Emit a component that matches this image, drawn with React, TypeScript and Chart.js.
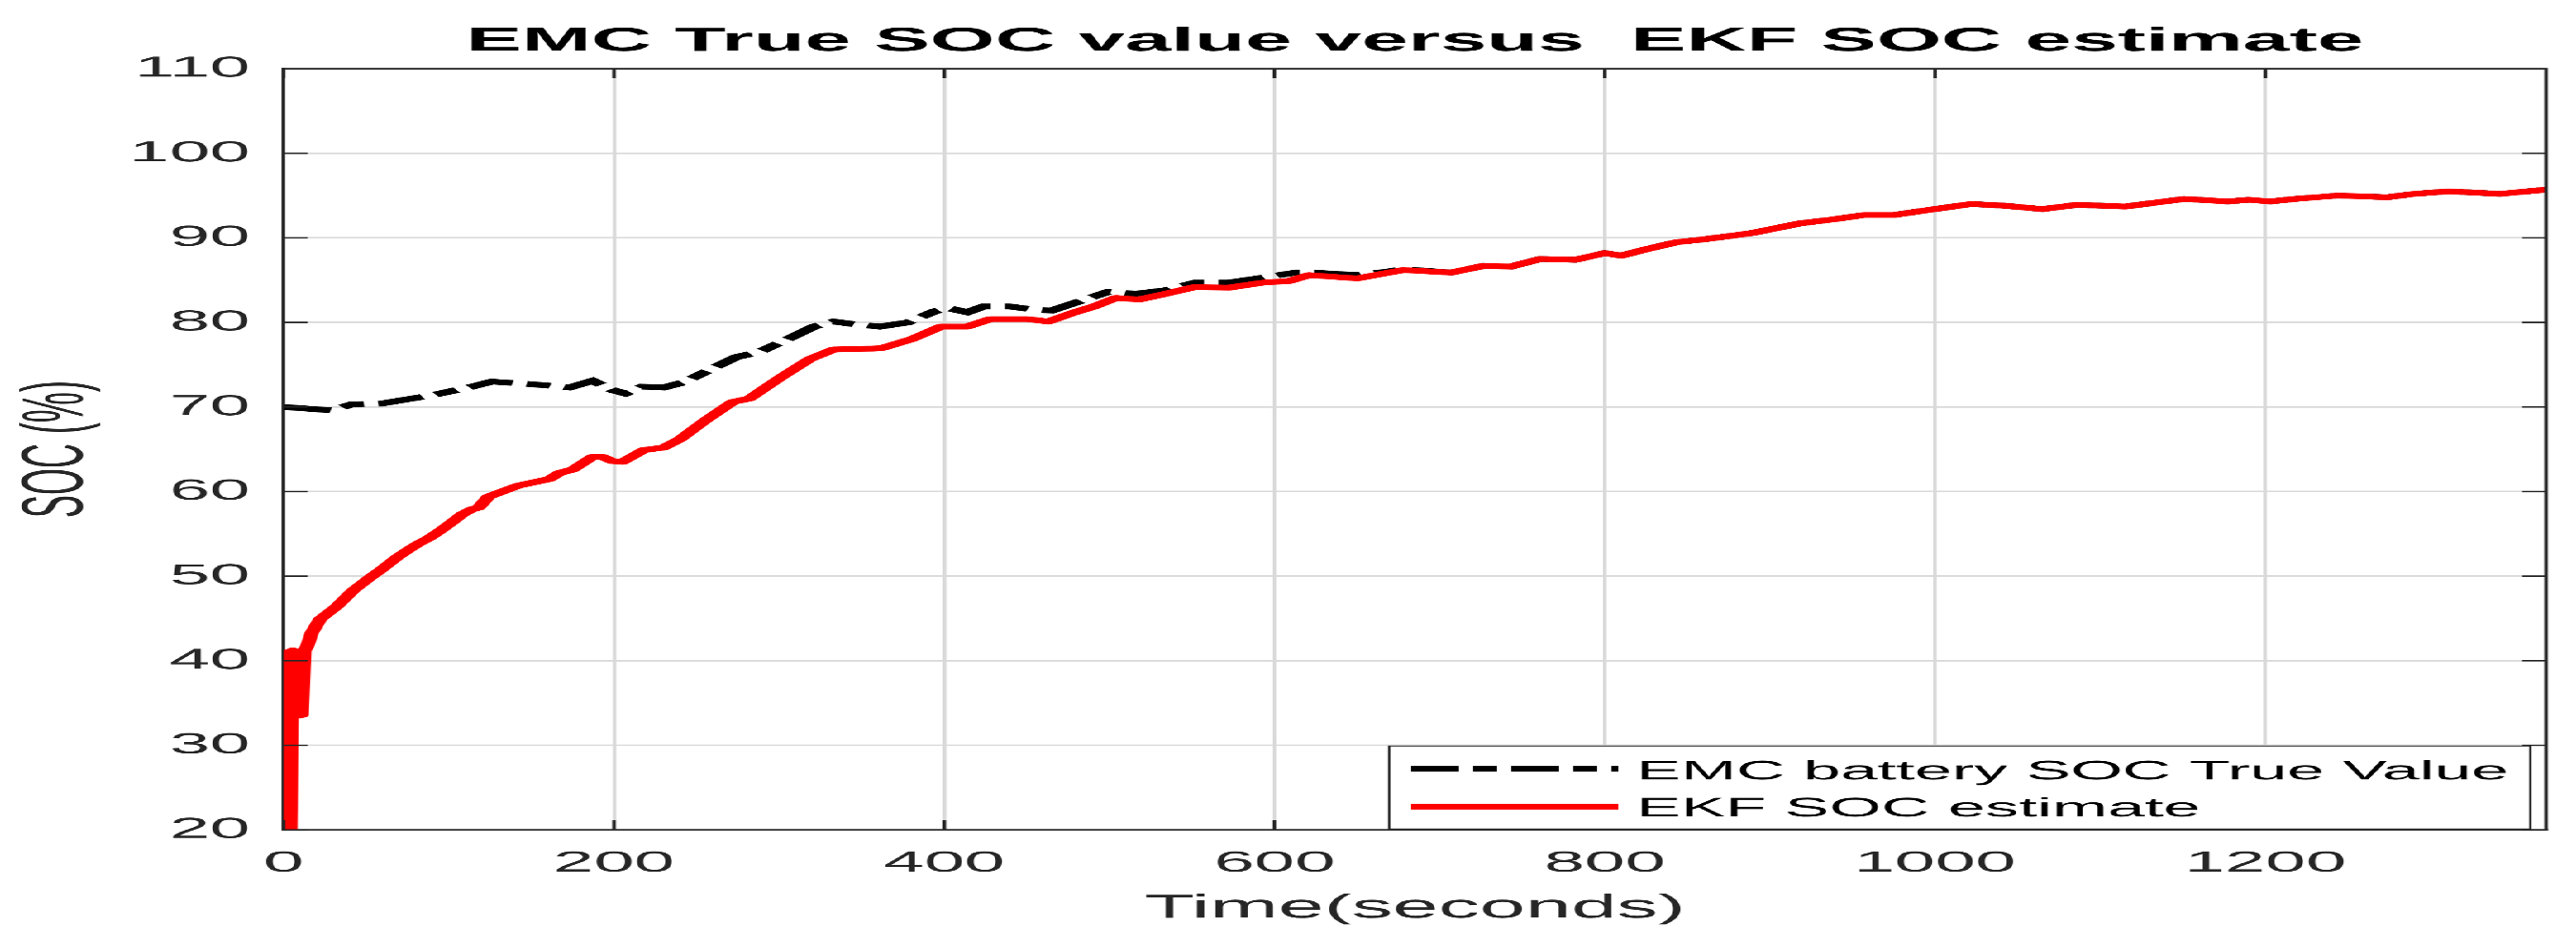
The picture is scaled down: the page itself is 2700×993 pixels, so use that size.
import { useEffect, useRef } from 'react';
import { Chart, registerables } from 'chart.js';

Chart.register(...registerables);

// EMC battery SOC true value (black dash-dot); hidden under the red line after ~680 s
const timeTrue = [0, 29, 41, 59, 90, 112, 126, 150, 173, 187, 199, 207, 217, 230, 242, 258, 274, 288, 305, 321, 333, 345, 361, 378, 394, 402, 414, 424, 439, 455, 465, 479, 499, 516, 534, 552, 572, 593, 613, 624, 650, 668, 678, 707, 717, 727, 743, 761, 782, 800, 810, 826, 844, 859, 875, 890, 918, 939, 957, 975, 996, 1022, 1042, 1065, 1086, 1115, 1151, 1177, 1190, 1203, 1218, 1244, 1274, 1290, 1311, 1342, 1370];
const socTrue = [70.0, 69.6, 70.3, 70.4, 71.4, 72.3, 73.0, 72.7, 72.3, 73.1, 72.0, 71.6, 72.4, 72.3, 72.9, 74.4, 75.9, 76.5, 78.0, 79.5, 80.1, 79.8, 79.5, 80.0, 81.3, 81.7, 81.2, 81.9, 81.9, 81.5, 81.4, 82.3, 83.6, 83.4, 83.8, 84.7, 84.7, 85.3, 85.9, 85.9, 85.6, 86.0, 86.3, 85.9, 86.3, 86.7, 86.6, 87.5, 87.4, 88.2, 87.9, 88.7, 89.5, 89.8, 90.2, 90.6, 91.7, 92.2, 92.7, 92.7, 93.3, 94.0, 93.8, 93.4, 93.9, 93.7, 94.6, 94.3, 94.5, 94.3, 94.6, 95.0, 94.8, 95.2, 95.5, 95.2, 95.7];

// EKF SOC estimate (red)
const timeEkf = [0, 1, 2.5, 4, 5.5, 8, 8.8, 10.9, 12.5, 14, 17, 22, 32, 42, 52, 58.6, 68.5, 77, 82, 88, 95, 102, 108, 114, 118, 124, 142, 161, 167, 175, 187, 193, 199, 205, 218, 230, 240, 256, 272, 282, 301, 319, 333, 357, 363, 380, 398, 414, 428, 450, 463, 479, 491, 504, 518, 532, 552, 572, 593, 609, 621, 650, 668, 678, 707, 717, 727, 743, 761, 782, 800, 810, 826, 844, 859, 875, 890, 918, 939, 957, 975, 996, 1022, 1042, 1065, 1086, 1115, 1151, 1177, 1190, 1203, 1218, 1244, 1274, 1290, 1311, 1342, 1370];
const socEkf = [30, 20, 41, 20, 41.2, 41, 33.5, 33.6, 41.2, 41.6, 43.3, 44.9, 46.4, 48.3, 49.8, 50.7, 52.2, 53.3, 53.9, 54.5, 55.4, 56.4, 57.3, 57.9, 58.1, 59.4, 60.7, 61.5, 62.2, 62.6, 64.1, 64.1, 63.6, 63.5, 64.9, 65.2, 66.2, 68.5, 70.6, 71.0, 73.5, 75.7, 76.8, 76.9, 77.0, 78.0, 79.5, 79.5, 80.4, 80.4, 80.1, 81.2, 81.9, 82.9, 82.7, 83.3, 84.2, 84.1, 84.7, 84.9, 85.6, 85.2, 85.85, 86.2, 85.9, 86.3, 86.7, 86.6, 87.5, 87.4, 88.2, 87.9, 88.7, 89.5, 89.8, 90.2, 90.6, 91.7, 92.2, 92.7, 92.7, 93.3, 94.0, 93.8, 93.4, 93.9, 93.7, 94.6, 94.3, 94.5, 94.3, 94.6, 95.0, 94.8, 95.2, 95.5, 95.2, 95.7];

const xTicks = [0, 200, 400, 600, 800, 1000, 1200];
const yTicks = [20, 30, 40, 50, 60, 70, 80, 90, 100, 110];
const legendLabels = ['EMC battery SOC True Value', 'EKF SOC estimate'];

// the reference figure is stretched sideways, so draw narrow and scale the box
const STRETCH = 2.5;
const W = 2700;
const H = 993;
const FONT = "'Liberation Sans', Arial, Helvetica, sans-serif";
const AXIS = '#262626';
const GRID = '#d9d9d9';
const DASH = [20, 6, 10, 6];

const matlabFrame = {
    id: 'matlabFrame',
    afterDraw(chart: any) {
        const { ctx, chartArea: a, scales } = chart;
        ctx.save();

        // box on top / right + inward tick marks
        ctx.strokeStyle = AXIS;
        ctx.lineWidth = 1.5;
        ctx.beginPath();
        ctx.moveTo(a.left, a.top);
        ctx.lineTo(a.right, a.top);
        ctx.lineTo(a.right, a.bottom);
        for (const v of yTicks) {
            const y = scales.y.getPixelForValue(v);
            ctx.moveTo(a.left, y);
            ctx.lineTo(a.left + 10, y);
            ctx.moveTo(a.right, y);
            ctx.lineTo(a.right - 10, y);
        }
        for (const v of xTicks) {
            const x = scales.x.getPixelForValue(v);
            ctx.moveTo(x, a.bottom);
            ctx.lineTo(x, a.bottom - 10);
            ctx.moveTo(x, a.top);
            ctx.lineTo(x, a.top + 10);
        }
        ctx.stroke();

        // title, centred on the plot area
        ctx.fillStyle = '#000';
        ctx.font = `bold 35px ${FONT}`;
        ctx.textAlign = 'center';
        ctx.textBaseline = 'alphabetic';
        ctx.fillText('EMC True SOC value versus  EKF SOC estimate', (a.left + a.right) / 2, 53);

        // legend box, lower right
        const bw = 478.4;
        const bh = 87;
        const bx = a.right - 6.6 - bw;
        const by = a.bottom - 1 - bh;
        ctx.fillStyle = '#fff';
        ctx.fillRect(bx, by, bw, bh);
        ctx.lineWidth = 1;
        ctx.strokeStyle = AXIS;
        ctx.strokeRect(bx, by, bw, bh);

        const rows = [
            { color: '#000', dash: DASH, lineY: by + 24, textY: by + 35 },
            { color: '#ff0000', dash: [], lineY: by + 63.7, textY: by + 74 },
        ];
        rows.forEach((r, i) => {
            ctx.beginPath();
            ctx.setLineDash(r.dash);
            ctx.lineCap = 'butt';
            ctx.strokeStyle = r.color;
            ctx.lineWidth = 6;
            ctx.moveTo(bx + 9.2, r.lineY);
            ctx.lineTo(bx + 96, r.lineY);
            ctx.stroke();
            ctx.setLineDash([]);
            ctx.fillStyle = '#000';
            ctx.font = `28px ${FONT}`;
            ctx.textAlign = 'left';
            ctx.fillText(legendLabels[i], bx + 103.6, r.textY);
        });

        ctx.restore();
    },
};

export default function App() {
    const canvasRef = useRef<HTMLCanvasElement>(null);

    useEffect(() => {
        if (!canvasRef.current) return;

        const chart = new Chart(canvasRef.current as any, {
            type: 'line',
            data: {
                datasets: [
                    {
                        label: legendLabels[0],
                        data: timeTrue.map((t, i) => ({ x: t, y: socTrue[i] })),
                        borderColor: '#000',
                        borderWidth: 6,
                        borderDash: DASH,
                        borderCapStyle: 'butt',
                        pointRadius: 0,
                        tension: 0,
                        order: 1,
                    },
                    {
                        label: legendLabels[1],
                        data: timeEkf.map((t, i) => ({ x: t, y: socEkf[i] })),
                        borderColor: '#ff0000',
                        borderWidth: 6,
                        borderJoinStyle: 'round',
                        borderCapStyle: 'round',
                        pointRadius: 0,
                        tension: 0,
                        order: 0,
                    },
                ],
            },
            options: {
                animation: false,
                responsive: true,
                maintainAspectRatio: false,
                devicePixelRatio: 2.5,
                layout: { padding: { top: 72, right: 12.6, left: 0, bottom: 0 } },
                plugins: {
                    legend: { display: false },
                    title: { display: false },
                    tooltip: { enabled: false },
                },
                scales: {
                    x: {
                        type: 'linear',
                        min: 0,
                        max: 1370,
                        afterBuildTicks: (s: any) => { s.ticks = xTicks.map((v) => ({ value: v })); },
                        afterFit: (s: any) => { s.height = 123; },
                        grid: { color: GRID, lineWidth: 1.5, drawTicks: false },
                        border: { color: AXIS, width: 1.5 },
                        ticks: {
                            color: AXIS,
                            padding: 17,
                            maxRotation: 0,
                            font: { family: FONT, size: 30.5 },
                            callback: (v: any) => String(v),
                        },
                        title: {
                            display: true,
                            text: 'Time(seconds)',
                            color: AXIS,
                            font: { family: FONT, size: 34.5 },
                            padding: { top: 0, bottom: 20 },
                        },
                    },
                    y: {
                        type: 'linear',
                        min: 20,
                        max: 110,
                        afterBuildTicks: (s: any) => { s.ticks = yTicks.map((v) => ({ value: v })); },
                        afterFit: (s: any) => { s.width = 118.9; },
                        grid: { color: GRID, lineWidth: 1.5, drawTicks: false },
                        border: { color: AXIS, width: 1.5 },
                        ticks: {
                            color: AXIS,
                            padding: 14,
                            font: { family: FONT, size: 30.5 },
                            callback: (v: any) => String(v),
                        },
                        title: {
                            display: true,
                            text: 'SOC (%)',
                            color: AXIS,
                            font: { family: FONT, size: 36 },
                            padding: { top: 3, bottom: 0 },
                        },
                    },
                },
            },
            plugins: [matlabFrame],
        });

        return () => chart.destroy();
    }, []);

    return (
        <div
            style={{
                position: 'absolute',
                left: 0,
                top: 0,
                width: W / STRETCH,
                height: H,
                transform: `scaleX(${STRETCH})`,
                transformOrigin: 'left top',
                background: '#fff',
            }}
        >
            <canvas ref={canvasRef}></canvas>
        </div>
    );
}
